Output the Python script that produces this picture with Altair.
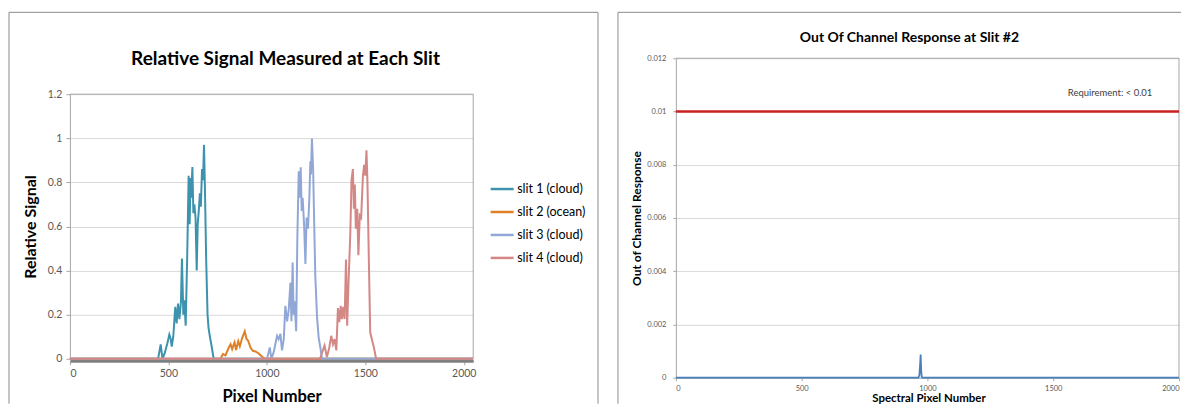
import altair as alt
import pandas as pd

# ---------------- data ----------------
series_names = ["slit 1 (cloud)", "slit 2 (ocean)", "slit 3 (cloud)", "slit 4 (cloud)"]
series_colors = ["#3d93ad", "#e07f26", "#91a8d6", "#d48886"]

s1_x = [0, 448, 461, 470, 481, 495, 505, 512, 517, 525, 535, 542, 549, 556, 564, 569, 576, 581, 588, 596,
        603, 608, 613, 616, 622, 627, 632, 638, 644, 649, 654, 660, 665, 671, 676, 681, 686, 692, 699, 704,
        711, 720, 730, 2047]
s1_y = [0, 0, 0.065, 0, 0.024, 0.07, 0.11, 0.09, 0.055, 0.10, 0.235, 0.16, 0.25, 0.18, 0.26, 0.455, 0.2, 0.265, 0.15, 0.48,
        0.83, 0.61, 0.82, 0.73, 0.87, 0.66, 0.70, 0.64, 0.40, 0.61, 0.665, 0.75, 0.69, 0.86, 0.81, 0.97, 0.76, 0.45, 0.2, 0.14,
        0.10, 0.055, 0, 0]

s2_x = [0, 765, 777, 790, 807, 816, 824, 836, 844, 855, 863, 875, 888, 897, 905, 917, 929, 942, 959, 976, 993, 2047]
s2_y = [0, 0, 0.021, 0.015, 0.051, 0.066, 0.044, 0.074, 0.04, 0.08, 0.057, 0.095, 0.124, 0.09, 0.082, 0.051, 0.036,
        0.033, 0.024, 0.009, 0, 0]

s3_x = [0, 1001, 1015, 1023, 1035, 1052, 1060, 1069, 1077, 1086, 1094, 1103, 1111, 1120, 1125, 1131, 1136, 1141, 1149, 1155,
        1162, 1167, 1172, 1177, 1182, 1189, 1196, 1202, 1209, 1216, 1221, 1224, 1229, 1235, 1240, 1246, 1255, 1263, 1272, 1280,
        2047]
s3_y = [0, 0, 0.051, 0, 0.03, 0.104, 0.089, 0.113, 0.038, 0.089, 0.24, 0.17, 0.22, 0.345, 0.17, 0.436, 0.2, 0.26, 0.125, 0.549,
        0.85, 0.73, 0.868, 0.67, 0.73, 0.61, 0.43, 0.64, 0.59, 0.73, 0.896, 0.836, 0.999, 0.866, 0.64, 0.38, 0.19, 0.098, 0.05, 0,
        0]

s4_x = [0, 1270, 1293, 1305, 1317, 1327, 1336, 1344, 1353, 1361, 1368, 1375, 1381, 1388, 1395, 1402, 1408, 1415, 1424, 1430,
        1437, 1442, 1447, 1452, 1459, 1465, 1472, 1479, 1488, 1494, 1500, 1506, 1511, 1518, 1525, 1533, 1544, 1555, 2047]
s4_y = [0, 0, 0.06, 0.008, 0.05, 0.104, 0.066, 0.089, 0.038, 0.23, 0.166, 0.24, 0.18, 0.235, 0.18, 0.45, 0.15, 0.35, 0.57, 0.81,
        0.86, 0.68, 0.79, 0.59, 0.68, 0.47, 0.65, 0.64, 0.83, 0.88, 0.83, 0.946, 0.80, 0.45, 0.12, 0.09, 0.05, 0, 0]

left_x_ticks = [0, 500, 1000, 1500, 2000]
left_y_ticks = [0, 0.2, 0.4, 0.6, 0.8, 1.0, 1.2]

oc_x = [0, 964, 968, 971, 973, 975, 977, 980, 2000]
oc_y = [0, 0, 0.0001, 0.0005, 0.00087, 0.0003, 0.00005, 0, 0]
requirement = 0.01
req_label = "Requirement: < 0.01"
req_label_x = 1726
req_label_y = 0.0107
right_x_ticks = [0, 500, 1000, 1500, 2000]
right_y_ticks = [0, 0.002, 0.004, 0.006, 0.008, 0.01, 0.012]

FONT = "Lato"
FRAME = "#8c8c8c"
AXC = "#a6a6a6"
LAB = "#595959"

rows = []
for name, xs, ys in zip(series_names, [s1_x, s2_x, s3_x, s4_x], [s1_y, s2_y, s3_y, s4_y]):
    for a, b in zip(xs, ys):
        rows.append({"series": name, "pixel": a, "value": b})
left_df = pd.DataFrame(rows)

one = pd.DataFrame({"k": [0]})


def hrule(x1, x2, y, color, width=1):
    return alt.Chart(one).mark_rule(color=color, strokeWidth=width).encode(
        x=alt.value(x1), x2=alt.value(x2), y=alt.value(y))


def vrule(x, y1, y2, color, width=1):
    return alt.Chart(one).mark_rule(color=color, strokeWidth=width).encode(
        x=alt.value(x), y=alt.value(y1), y2=alt.value(y2))


# Both panels share the same group origin (top of the right plot area);
# the left plot area starts TOP_L pixels lower.
# ---------------- left panel ----------------
LW = 404
TOP_L = 36
LH = 265
LVIEW = TOP_L + LH

left_lines = alt.Chart(left_df).mark_line(strokeWidth=2).encode(
    x=alt.X("pixel:Q", scale=alt.Scale(domain=[0, 2048], nice=False, zero=False),
            axis=alt.Axis(values=left_x_ticks, format="d", title="Pixel Number", titleFont=FONT,
                          titleFontSize=16.5, titleFontWeight="bold", titleColor="#000000",
                          titleX=LW / 2, titleY=36, titleBaseline="middle", labelFont=FONT,
                          labelFontSize=10.5, labelColor=LAB, labelPadding=3.5, tickSize=4,
                          tickColor=AXC, domainColor="#808080", domainWidth=3, offset=2, grid=False)),
    y=alt.Y("value:Q", scale=alt.Scale(domain=[0, 1.2], nice=False, range=[LVIEW, TOP_L]),
            axis=alt.Axis(values=left_y_ticks, format=".1~f", title="Relative Signal", titleFont=FONT,
                          titleFontSize=16, titleFontWeight="bold", titleColor="#000000", titleX=-39,
                          titleY=TOP_L + LH / 2, titleBaseline="middle", labelFont=FONT,
                          labelFontSize=10.5, labelColor=LAB, labelPadding=4, tickSize=4,
                          tickColor=AXC, domainColor=AXC, grid=True, gridColor="#d9d9d9")),
    color=alt.Color("series:N", scale=alt.Scale(domain=series_names, range=series_colors),
                    legend=alt.Legend(title=None, orient="none", legendX=420, legendY=TOP_L + 82,
                                      symbolType="stroke", symbolSize=529, symbolStrokeWidth=2.5,
                                      labelFont=FONT, labelFontSize=12.5, labelColor="#000000",
                                      rowPadding=3, labelOffset=2)),
    order=alt.Order("pixel:Q"),
)

left_title = alt.Chart(one).mark_text(
    text="Relative Signal Measured at Each Slit", font=FONT, fontSize=19, fontWeight="bold",
    color="#000000", align="center", baseline="middle").encode(x=alt.value(216), y=alt.value(1))

left = alt.layer(
    hrule(-61, 529, -46, FRAME), vrule(-61, -46, 346, FRAME), vrule(529, -46, 346, FRAME),
    hrule(0, LW, TOP_L, AXC), vrule(LW, TOP_L, LVIEW, AXC),
    left_title, left_lines,
).properties(width=LW, height=LVIEW)

# ---------------- right panel ----------------
RW, RH = 504, 320
oc_df = pd.DataFrame({"pixel": oc_x, "value": oc_y})
req_df = pd.DataFrame({"value": [requirement]})
lab_df = pd.DataFrame({"pixel": [req_label_x], "value": [req_label_y]})

xs_r = alt.Scale(domain=[0, 2000], nice=False)
ys_r = alt.Scale(domain=[0, 0.012], nice=False)

right_line = alt.Chart(oc_df).mark_line(color="#4a7ebb", strokeWidth=1.8).encode(
    x=alt.X("pixel:Q", scale=xs_r,
            axis=alt.Axis(values=right_x_ticks, format="d", title="Spectral Pixel Number",
                          titleFont=FONT, titleFontSize=11.5, titleFontWeight="bold",
                          titleColor="#000000", titleX=253, titleY=21, titleBaseline="middle",
                          labelFont=FONT, labelFontSize=7.5, labelColor=LAB, labelPadding=4,
                          tickSize=3, tickColor=AXC, domainColor=AXC, labelFlush=True, grid=False)),
    y=alt.Y("value:Q", scale=ys_r,
            axis=alt.Axis(values=right_y_ticks, format=".3~f", title="Out of Channel Response",
                          titleFont=FONT, titleFontSize=12, titleFontWeight="bold",
                          titleColor="#000000", titleX=-39, titleY=RH / 2, titleBaseline="middle",
                          labelFont=FONT, labelFontSize=7.5, labelColor=LAB, labelPadding=7,
                          tickSize=3, tickColor=AXC, domainColor=AXC, grid=True,
                          gridColor="#d9d9d9")),
)

req_rule = alt.Chart(req_df).mark_rule(color="#c8211e", strokeWidth=2.5).encode(
    y=alt.Y("value:Q", scale=ys_r))

req_text = alt.Chart(lab_df).mark_text(
    text=req_label, font=FONT, fontSize=9.5, color="#404040", align="center",
    baseline="middle").encode(x=alt.X("pixel:Q", scale=xs_r), y=alt.Y("value:Q", scale=ys_r))

right_title = alt.Chart(one).mark_text(
    text="Out Of Channel Response at Slit #2", font=FONT, fontSize=14, fontWeight="bold",
    color="#000000", align="center", baseline="middle").encode(x=alt.value(234), y=alt.value(-20))

right = alt.layer(
    hrule(-58, 506, -46, FRAME), vrule(-58, -46, 346, FRAME),
    hrule(0, RW, 0, AXC), vrule(RW, 0, RH, AXC),
    right_title, right_line, req_rule, req_text,
).properties(width=RW, height=RH)

chart = alt.hconcat(left, right, spacing=18).properties(
    padding={"left": 0, "top": 3, "right": 0, "bottom": 0},
    background="#ffffff",
).configure_view(strokeWidth=0)

chart.save("out.html", embed_options={"renderer": "svg", "actions": False})
